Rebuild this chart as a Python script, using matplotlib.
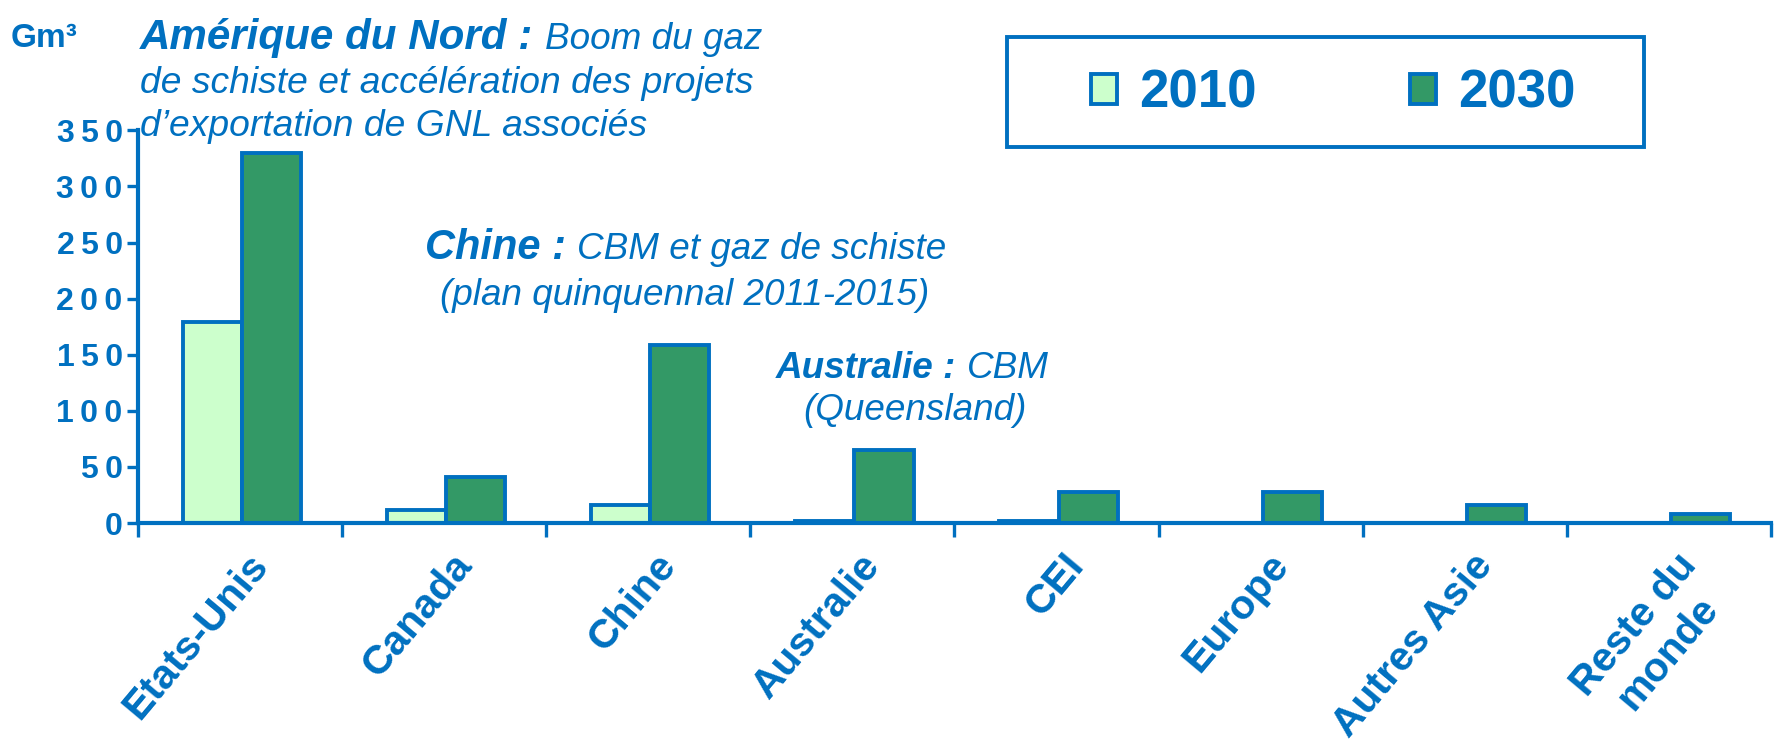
import numpy as np
import matplotlib
matplotlib.use("Agg")
import matplotlib.pyplot as plt
from matplotlib.patches import Rectangle
from matplotlib.transforms import ScaledTranslation

# Data (Gm3)
regions = ["Etats-Unis", "Canada", "Chine", "Australie", "CEI", "Europe",
           "Autres Asie", "Reste du\nmonde"]
prod_2010 = [179, 12, 16, 2, 2, 0, 0, 0]
prod_2030 = [330, 41, 159, 65, 28, 28, 16, 8]
series_labels = ["2010", "2030"]

blue = "#0070C0"
light_green = "#CCFFCC"
dark_green = "#339966"

plt.rcParams["font.family"] = ["Liberation Sans", "DejaVu Sans"]

fig = plt.figure(figsize=(17.78, 7.49), dpi=100)
ax = fig.add_axes([0.0776, 0.3017, 0.9184, 0.5243])

x = np.arange(len(regions))
w = 0.29
b1 = ax.bar(x - w / 2 + 0.01, prod_2010, w, color=light_green, edgecolor=blue,
            linewidth=2.8, label=series_labels[0], zorder=2)
b2 = ax.bar(x + w / 2 + 0.01, prod_2030, w, color=dark_green, edgecolor=blue,
            linewidth=2.8, label=series_labels[1], zorder=2)

ax.set_xlim(-0.5, len(regions) - 0.5)
ax.set_ylim(0, 350)

for s in ["top", "right"]:
    ax.spines[s].set_visible(False)
for s in ["left", "bottom"]:
    ax.spines[s].set_color(blue)
    ax.spines[s].set_linewidth(3)

# y ticks, spaced narrow digits like the original
yt = np.arange(0, 351, 50)
ax.set_yticks(yt)
ax.set_yticklabels(["\u2009".join(str(v)) for v in yt])
ax.tick_params(axis="y", direction="out", length=8, width=2.4, color=blue,
               labelcolor=blue, labelsize=23, pad=3)
for lab in ax.get_yticklabels():
    lab.set_fontweight("bold")
    lab.set_family(["Liberation Sans Narrow", "Liberation Sans", "DejaVu Sans"])

# x: ticks between categories, labels at centres
ax.set_xticks(x)
ax.set_xticklabels(regions, rotation=50, ha="right", va="top",
                   rotation_mode="anchor", multialignment="center",
                   fontsize=29.5, fontweight="bold", color=blue)
ax.set_xticks(np.arange(-0.5, len(regions)), minor=True)
ax.tick_params(axis="x", which="major", length=0, pad=17)
ax.tick_params(axis="x", which="minor", direction="out", length=10, width=2.4,
               color=blue)
for lab in ax.get_xticklabels():
    lab.set_transform(lab.get_transform() + ScaledTranslation(0.06, 0, fig.dpi_scale_trans))


def px(xp, yp):
    return xp / 1778, 1 - yp / 749


# unit
fig.text(*px(11, 47), "Gm³", fontsize=24, fontweight="bold", color=blue)

# annotations
fig.text(*px(140, 49), "Amérique du Nord :", fontsize=30.3, fontweight="bold",
         fontstyle="italic", color=blue)
fig.text(*px(545, 49), "Boom du gaz", fontsize=26.6, fontstyle="italic", color=blue)
fig.text(*px(140, 93), "de schiste et accélération des projets", fontsize=26.8,
         fontstyle="italic", color=blue)
fig.text(*px(140, 136), "d’exportation de GNL associés", fontsize=26.8,
         fontstyle="italic", color=blue)

fig.text(*px(425, 259), "Chine :", fontsize=30, fontweight="bold",
         fontstyle="italic", color=blue)
fig.text(*px(577, 259), "CBM et gaz de schiste", fontsize=26.6,
         fontstyle="italic", color=blue)
fig.text(*px(440, 305), "(plan quinquennal 2011-2015)", fontsize=26.6,
         fontstyle="italic", color=blue)

fig.text(*px(776, 378), "Australie :", fontsize=26.6, fontweight="bold",
         fontstyle="italic", color=blue)
fig.text(*px(967, 378), "CBM", fontsize=26.6, fontstyle="italic", color=blue)
fig.text(*px(803, 420), "(Queensland)", fontsize=26.6, fontstyle="italic", color=blue)

# legend with a separate frame
fig.patches.append(Rectangle(px(1007, 147), 637 / 1778, 110 / 749,
                             transform=fig.transFigure, fill=False,
                             edgecolor=blue, linewidth=2.8))
fig.legend(handles=[b1, b2], labels=series_labels, loc="center left",
           bbox_to_anchor=px(1065, 94), bbox_transform=fig.transFigure,
           ncol=2, frameon=False, borderpad=0,
           prop={"weight": "bold", "size": 38}, labelcolor=blue,
           handlelength=0.49, handleheight=0.49, handletextpad=0.42,
           columnspacing=2.9)

fig.savefig("out.png", dpi=100)
